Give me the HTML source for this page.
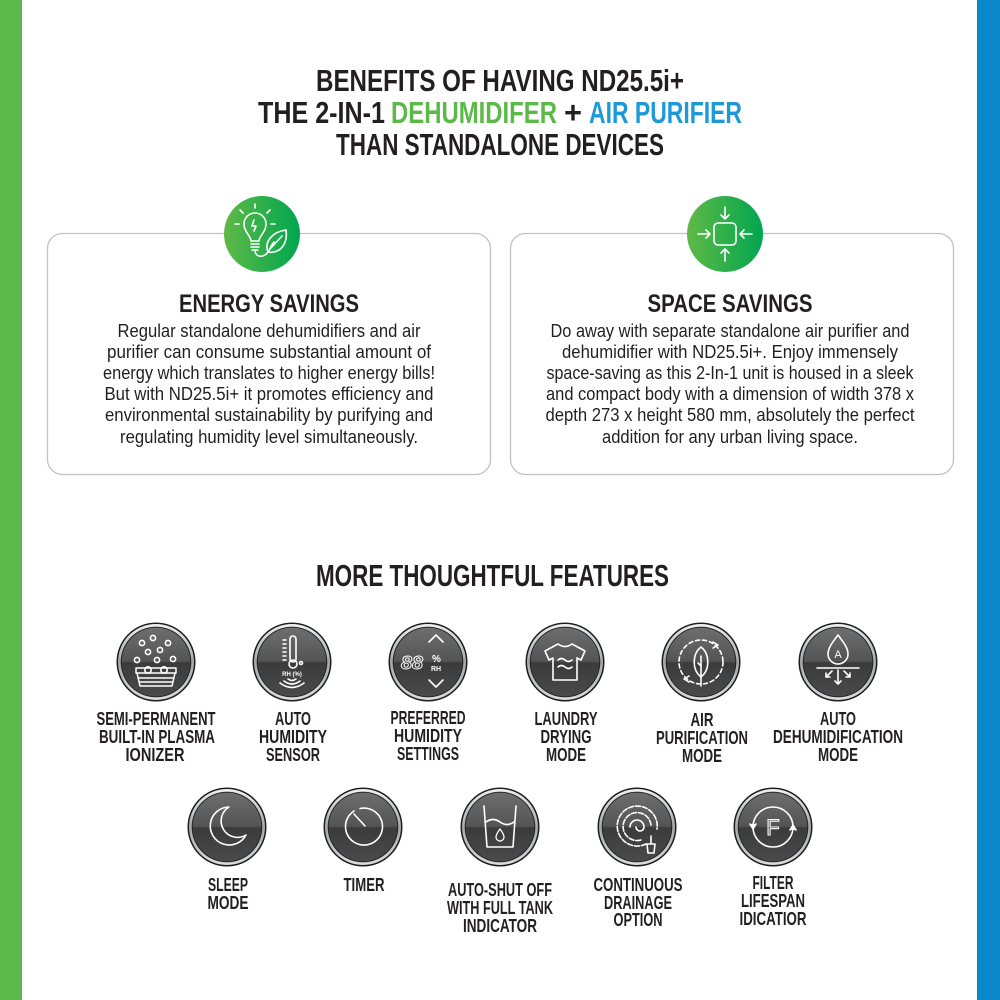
<!DOCTYPE html>
<html><head><meta charset="utf-8"><style>
html,body{margin:0;padding:0;background:#fff;}
svg{display:block;}
text{font-family:"Liberation Sans",sans-serif;fill:#231f20;}
.t{font-weight:bold;font-size:31px;}
.h{font-weight:bold;font-size:25px;}
.b{font-size:18px;}
.l{font-weight:bold;font-size:18px;}
.ic{fill:none;stroke:#fff;stroke-width:1.6;stroke-linecap:round;stroke-linejoin:round;}
</style></head><body>
<svg width="1000" height="1000" viewBox="0 0 1000 1000" xmlns="http://www.w3.org/2000/svg">
<defs>
<linearGradient id="grn" x1="0" y1="0" x2="1" y2="0"><stop offset="0" stop-color="#5fb946"/><stop offset="1" stop-color="#00a650"/></linearGradient>
<linearGradient id="ring" x1="0" y1="0" x2="0" y2="1"><stop offset="0" stop-color="#eef0f2"/><stop offset="0.5" stop-color="#a4a8ac"/><stop offset="1" stop-color="#dadcde"/></linearGradient>
<linearGradient id="face" x1="0" y1="0" x2="0" y2="1"><stop offset="0" stop-color="#6e6e6e"/><stop offset="0.49" stop-color="#545454"/><stop offset="0.51" stop-color="#3b3b3b"/><stop offset="1" stop-color="#4a4a4a"/></linearGradient>
<g id="fc">
<circle r="39.5" fill="#1c1c1c"/>
<circle r="38" fill="url(#ring)"/>
<circle r="35.3" fill="#1f1f1f"/>
<circle r="34.4" fill="url(#face)"/>
</g>
</defs>
<rect width="1000" height="1000" fill="#fff"/>
<rect x="0" y="0" width="22" height="1000" fill="#5cb94a"/>
<rect x="977" y="0" width="23" height="1000" fill="#0a87c9"/>

<!-- Title -->
<text class="t" x="316" y="91" textLength="368" lengthAdjust="spacingAndGlyphs">BENEFITS OF HAVING ND25.5i+</text>
<text class="t" x="258" y="123" textLength="127" lengthAdjust="spacingAndGlyphs">THE 2-IN-1</text>
<text class="t" x="391" y="123" textLength="166" lengthAdjust="spacingAndGlyphs" style="fill:#5bb947">DEHUMIDIFER</text>
<text class="t" x="564" y="123" textLength="18" lengthAdjust="spacingAndGlyphs">+</text>
<text class="t" x="589" y="123" textLength="153" lengthAdjust="spacingAndGlyphs" style="fill:#1b9ad7">AIR PURIFIER</text>
<text class="t" x="336" y="155" textLength="328" lengthAdjust="spacingAndGlyphs">THAN STANDALONE DEVICES</text>

<!-- Cards -->
<rect x="47.5" y="233.5" width="443" height="241" rx="15" fill="#fff" stroke="#c2c2c2" stroke-width="1.3"/>
<rect x="510.5" y="233.5" width="443" height="241" rx="15" fill="#fff" stroke="#c2c2c2" stroke-width="1.3"/>

<circle cx="262" cy="234" r="38" fill="url(#grn)"/>
<g class="ic" transform="translate(262,234)" stroke-width="1.5">
<path d="M-11 7 C-11 2 -18 -2 -18 -10 A 11 11 0 0 1 4 -10 C4 -2 -3 2 -3 7 Z"/>
<path d="M-11 10 L-3 10 M-11 13 L-3 13 M-10 16 L-4 16"/>
<path d="M-8 -14 L-10 -8 L-6 -8 L-8 -3"/>
<path d="M-7 -26 L-7 -30 M-19 -21 L-22 -24 M5 -21 L8 -24 M-23 -10 L-27 -10 M9 -10 L13 -10"/>
<path d="M-7 16 C-7 24 2 24 6 18 C9 13 10 10 12 8"/>
<path d="M6 18 C2 8 10 -2 24 -4 C26 10 18 20 6 18 Z"/>
<path d="M8 15 L20 2"/>
</g>

<circle cx="725" cy="234" r="38" fill="url(#grn)"/>
<g class="ic" transform="translate(725,234)" stroke-width="1.8">
<rect x="-11" y="-11" width="22" height="22" rx="4"/>
<path d="M0 -27 L0 -15 M-4 -19 L0 -15 L4 -19"/>
<path d="M0 27 L0 15 M-4 19 L0 15 L4 19"/>
<path d="M-27 0 L-15 0 M-19 -4 L-15 0 L-19 4"/>
<path d="M27 0 L15 0 M19 -4 L15 0 L19 4"/>
</g>

<text class="h" x="269" y="312" text-anchor="middle" textLength="180" lengthAdjust="spacingAndGlyphs">ENERGY SAVINGS</text>
<text class="b" x="269" y="337" text-anchor="middle" textLength="303" lengthAdjust="spacingAndGlyphs">Regular standalone dehumidifiers and air</text>
<text class="b" x="269" y="358" text-anchor="middle" textLength="324" lengthAdjust="spacingAndGlyphs">purifier can consume substantial amount of</text>
<text class="b" x="269" y="379" text-anchor="middle" textLength="332" lengthAdjust="spacingAndGlyphs">energy which translates to higher energy bills!</text>
<text class="b" x="269" y="400" text-anchor="middle" textLength="329" lengthAdjust="spacingAndGlyphs">But with ND25.5i+ it promotes efficiency and</text>
<text class="b" x="269" y="421" text-anchor="middle" textLength="328" lengthAdjust="spacingAndGlyphs">environmental sustainability by purifying and</text>
<text class="b" x="269" y="443" text-anchor="middle" textLength="298" lengthAdjust="spacingAndGlyphs">regulating humidity level simultaneously.</text>

<text class="h" x="730" y="312" text-anchor="middle" textLength="165" lengthAdjust="spacingAndGlyphs">SPACE SAVINGS</text>
<text class="b" x="730" y="337" text-anchor="middle" textLength="359" lengthAdjust="spacingAndGlyphs">Do away with separate standalone air purifier and</text>
<text class="b" x="730" y="358" text-anchor="middle" textLength="336" lengthAdjust="spacingAndGlyphs">dehumidifier with ND25.5i+. Enjoy immensely</text>
<text class="b" x="730" y="379" text-anchor="middle" textLength="367" lengthAdjust="spacingAndGlyphs">space-saving as this 2-In-1 unit is housed in a sleek</text>
<text class="b" x="730" y="400" text-anchor="middle" textLength="368" lengthAdjust="spacingAndGlyphs">and compact body with a dimension of width 378 x</text>
<text class="b" x="730" y="421" text-anchor="middle" textLength="369" lengthAdjust="spacingAndGlyphs">depth 273 x height 580 mm, absolutely the perfect</text>
<text class="b" x="730" y="443" text-anchor="middle" textLength="256" lengthAdjust="spacingAndGlyphs">addition for any urban living space.</text>

<!-- Features heading -->
<text class="t" x="316" y="586" textLength="353" lengthAdjust="spacingAndGlyphs">MORE THOUGHTFUL FEATURES</text>

<!-- Row 1 circles -->
<use href="#fc" x="156" y="662"/>
<use href="#fc" x="292" y="662"/>
<use href="#fc" x="428" y="662"/>
<use href="#fc" x="565" y="662"/>
<use href="#fc" x="701" y="662"/>
<use href="#fc" x="838" y="662"/>
<!-- Row 2 circles -->
<use href="#fc" x="227" y="827"/>
<use href="#fc" x="363" y="827"/>
<use href="#fc" x="500" y="827"/>
<use href="#fc" x="637" y="827"/>
<use href="#fc" x="773" y="827"/>

<!-- Icon 1: ionizer -->
<g class="ic" transform="translate(156,662)" stroke-width="1.2">
<circle cx="-14" cy="-19" r="2.6"/><circle cx="-3" cy="-24" r="2.6"/><circle cx="12" cy="-19" r="2.6"/>
<circle cx="-8" cy="-10" r="2.6"/><circle cx="4" cy="-12" r="2.6"/><circle cx="-19" cy="-2" r="2.6"/>
<circle cx="1" cy="-2" r="2.6"/><circle cx="17" cy="-3" r="2.6"/>
<path d="M-20 6 L20 6 L20 11 L-20 11 Z M-19 11 L-16 24 L16 24 L19 11 M-18 16 L18 16 M-17 20 L17 20" stroke-width="1.5"/>
<circle cx="-8" cy="8" r="3.2"/><circle cx="8" cy="8" r="3.2"/>
</g>

<!-- Icon 2: humidity sensor -->
<g class="ic" transform="translate(292,662)" stroke-width="1.3">
<rect x="-2" y="-26" width="6" height="26" rx="3"/>
<circle cx="1" cy="2" r="4"/>
<path d="M-9 -22 L-6 -22 M-9 -18 L-6 -18 M-9 -14 L-6 -14 M-9 -10 L-6 -10 M-9 -6 L-6 -6 M-9 -2 L-6 -2"/>
<circle cx="9" cy="1" r="1.5"/>
<path d="M-4 17 Q0 20 4 17 M-8 19 Q0 25 8 19 M-12 21 Q0 30 12 21"/>
</g>
<text x="292" y="14" transform="translate(0,662)" text-anchor="middle" style="fill:#fff;font-size:6px;font-weight:bold">RH (%)</text>

<!-- Icon 3: preferred humidity -->
<g class="ic" transform="translate(428,662)" stroke-width="1.6">
<path d="M1 -20 L8 -27 L15 -20"/>
<path d="M1 18 L8 25 L15 18"/>
</g>
<text x="412" y="669" text-anchor="middle" textLength="22" lengthAdjust="spacingAndGlyphs" style="fill:none;stroke:#fff;stroke-width:0.9;font-size:18px;font-weight:bold;font-style:italic">88</text>
<text x="432" y="662" style="fill:#fff;font-size:10px;font-weight:bold">%</text>
<text x="431" y="671" style="fill:#fff;font-size:7px;font-weight:bold">RH</text>

<!-- Icon 4: laundry -->
<g class="ic" transform="translate(565,662)" stroke-width="1.5">
<path d="M-7 -18 Q0 -13 7 -18 L20 -11 L16 -2 L12 -4 L12 18 L-12 18 L-12 -4 L-16 -2 L-20 -11 Z"/>
<path d="M-7 -2 Q-3.5 -5 0 -2 T7 -2 M-7 5 Q-3.5 2 0 5 T7 5"/>
</g>

<!-- Icon 5: air purification -->
<g class="ic" transform="translate(701,662)" stroke-width="1.4">
<circle r="22" stroke-dasharray="4 3"/>
<path d="M0 -15 C9 -8 9 8 0 15 C-9 8 -9 -8 0 -15 Z"/>
<path d="M0 -6 L0 24 M0 4 L-3 1"/>
<path d="M12 -20 L17 -17 L12 -14 M-12 20 L-17 17 L-12 14"/>
</g>

<!-- Icon 6: auto dehumid -->
<g class="ic" transform="translate(838,662)" stroke-width="1.5">
<path d="M0 -27 C6 -19 10 -14 10 -8 A10 10 0 0 1 -10 -8 C-10 -14 -6 -19 0 -27 Z"/>
<path d="M-21 6 L21 6"/>
<path d="M0 8 L0 22 M-3 19 L0 22 L3 19"/>
<path d="M-6 9 L-12 15 M-12 11 L-12 15 L-8 15"/>
<path d="M6 9 L12 15 M12 11 L12 15 L8 15"/>
</g>
<text x="838" y="-4" transform="translate(0,662)" text-anchor="middle" style="fill:#fff;font-size:11px">A</text>

<!-- Icon 7: sleep -->
<g class="ic" transform="translate(227,827)" stroke-width="1.8">
<path d="M2 -20 A19 19 0 1 0 19 8 A15 15 0 0 1 2 -20 Z"/>
</g>

<!-- Icon 8: timer -->
<g class="ic" transform="translate(363,827)" stroke-width="1.9">
<path d="M-3 -18.5 A18.5 18.5 0 1 1 -9 -16"/>
<path d="M-9 -13 L2 -1"/>
</g>

<!-- Icon 9: tank -->
<g class="ic" transform="translate(500,827)" stroke-width="1.6">
<path d="M-16 -21 L-13 20 L13 20 L16 -21"/>
<path d="M-14 -5 Q-7 -10 0 -5 T14 -5"/>
<path d="M0 2 C3 6 4 8 4 10 A4 4 0 0 1 -4 10 C-4 8 -3 6 0 2 Z" stroke-width="1.3"/>
</g>

<!-- Icon 10: drainage -->
<g class="ic" transform="translate(637,827)" stroke-width="1.5">
<path d="M9 17 A20 20 0 1 1 20 2" stroke-dasharray="5 2"/>
<path d="M14 -2 A14 14 0 1 0 4 13" stroke-dasharray="5 2"/>
<path d="M-7 0 A7 7 0 1 1 7 0 A4 4 0 0 1 -1 0"/>
<path d="M14 9 L14 17 M10 17 L18 17 L17 26 L11 26 Z"/>
</g>

<!-- Icon 11: filter -->
<g class="ic" transform="translate(773,827)" stroke-width="1.5">
<circle r="20"/>
<path d="M-23 -3 L-20 2 L-17 -3 M23 3 L20 -2 L17 3" fill="#fff"/>
</g>
<text x="773" y="835" text-anchor="middle" style="fill:none;stroke:#fff;stroke-width:1.1;font-size:22px">F</text>

<!-- Row 1 labels -->
<text class="l" x="156" y="725" text-anchor="middle" textLength="119" lengthAdjust="spacingAndGlyphs">SEMI-PERMANENT</text>
<text class="l" x="157" y="743" text-anchor="middle" textLength="116" lengthAdjust="spacingAndGlyphs">BUILT-IN PLASMA</text>
<text class="l" x="155" y="761" text-anchor="middle" textLength="59" lengthAdjust="spacingAndGlyphs">IONIZER</text>

<text class="l" x="293" y="725" text-anchor="middle" textLength="36" lengthAdjust="spacingAndGlyphs">AUTO</text>
<text class="l" x="293" y="743" text-anchor="middle" textLength="68" lengthAdjust="spacingAndGlyphs">HUMIDITY</text>
<text class="l" x="293" y="761" text-anchor="middle" textLength="54" lengthAdjust="spacingAndGlyphs">SENSOR</text>

<text class="l" x="428" y="724" text-anchor="middle" textLength="75" lengthAdjust="spacingAndGlyphs">PREFERRED</text>
<text class="l" x="428" y="742" text-anchor="middle" textLength="68" lengthAdjust="spacingAndGlyphs">HUMIDITY</text>
<text class="l" x="428" y="760" text-anchor="middle" textLength="62" lengthAdjust="spacingAndGlyphs">SETTINGS</text>

<text class="l" x="566" y="725" text-anchor="middle" textLength="63" lengthAdjust="spacingAndGlyphs">LAUNDRY</text>
<text class="l" x="566" y="743" text-anchor="middle" textLength="51" lengthAdjust="spacingAndGlyphs">DRYING</text>
<text class="l" x="566" y="761" text-anchor="middle" textLength="40" lengthAdjust="spacingAndGlyphs">MODE</text>

<text class="l" x="702" y="726" text-anchor="middle" textLength="23" lengthAdjust="spacingAndGlyphs">AIR</text>
<text class="l" x="702" y="744" text-anchor="middle" textLength="92" lengthAdjust="spacingAndGlyphs">PURIFICATION</text>
<text class="l" x="702" y="762" text-anchor="middle" textLength="40" lengthAdjust="spacingAndGlyphs">MODE</text>

<text class="l" x="838" y="725" text-anchor="middle" textLength="36" lengthAdjust="spacingAndGlyphs">AUTO</text>
<text class="l" x="838" y="743" text-anchor="middle" textLength="130" lengthAdjust="spacingAndGlyphs">DEHUMIDIFICATION</text>
<text class="l" x="838" y="761" text-anchor="middle" textLength="40" lengthAdjust="spacingAndGlyphs">MODE</text>

<!-- Row 2 labels -->
<text class="l" x="228" y="891" text-anchor="middle" textLength="40" lengthAdjust="spacingAndGlyphs">SLEEP</text>
<text class="l" x="228" y="909" text-anchor="middle" textLength="41" lengthAdjust="spacingAndGlyphs">MODE</text>

<text class="l" x="364" y="891" text-anchor="middle" textLength="41" lengthAdjust="spacingAndGlyphs">TIMER</text>

<text class="l" x="500" y="896" text-anchor="middle" textLength="104" lengthAdjust="spacingAndGlyphs">AUTO-SHUT OFF</text>
<text class="l" x="500" y="914" text-anchor="middle" textLength="106" lengthAdjust="spacingAndGlyphs">WITH FULL TANK</text>
<text class="l" x="500" y="932" text-anchor="middle" textLength="74" lengthAdjust="spacingAndGlyphs">INDICATOR</text>

<text class="l" x="638" y="891" text-anchor="middle" textLength="89" lengthAdjust="spacingAndGlyphs">CONTINUOUS</text>
<text class="l" x="638" y="909" text-anchor="middle" textLength="68" lengthAdjust="spacingAndGlyphs">DRAINAGE</text>
<text class="l" x="638" y="926" text-anchor="middle" textLength="49" lengthAdjust="spacingAndGlyphs">OPTION</text>

<text class="l" x="773" y="889" text-anchor="middle" textLength="41" lengthAdjust="spacingAndGlyphs">FILTER</text>
<text class="l" x="773" y="907" text-anchor="middle" textLength="64" lengthAdjust="spacingAndGlyphs">LIFESPAN</text>
<text class="l" x="773" y="925" text-anchor="middle" textLength="67" lengthAdjust="spacingAndGlyphs">IDICATIOR</text>
</svg>
</body></html>
